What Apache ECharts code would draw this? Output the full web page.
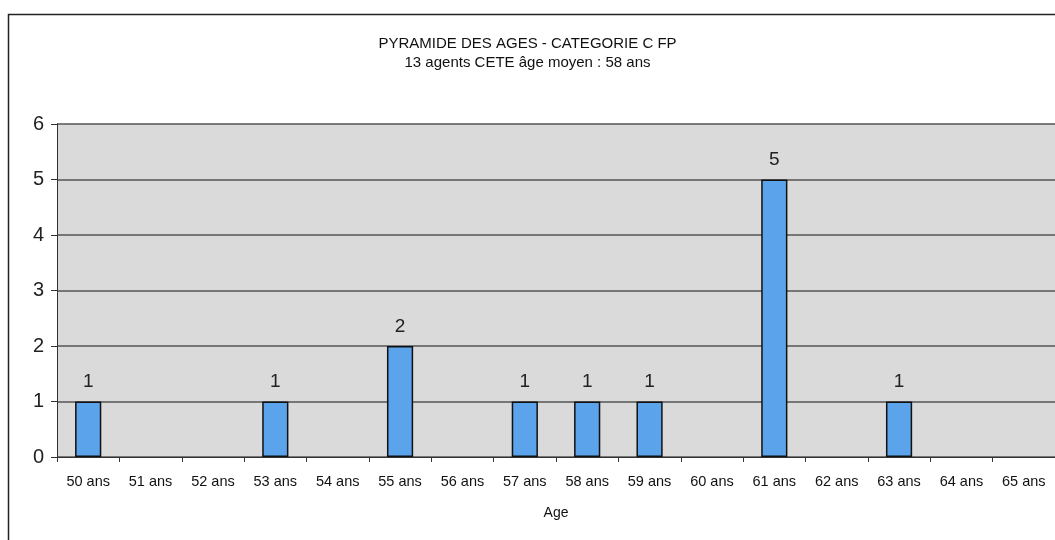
<!DOCTYPE html>
<html>
<head>
<meta charset="utf-8">
<script src="https://cdn.jsdelivr.net/npm/echarts@6/dist/echarts.min.js"></script>
<style>
  html, body { margin: 0; padding: 0; background: #fff; }
  #chart { width: 1055px; height: 540px; }
</style>
</head>
<body>
<div id="chart"></div>
<script>
// age categories and head counts (0 = no agent)
const ages = ['50 ans', '51 ans', '52 ans', '53 ans', '54 ans', '55 ans', '56 ans', '57 ans',
  '58 ans', '59 ans', '60 ans', '61 ans', '62 ans', '63 ans', '64 ans', '65 ans']
const agents = [1, 0, 0, 1, 0, 2, 0, 1, 1, 1, 0, 5, 0, 1, 0, 0]
const titleText = 'PYRAMIDE DES AGES - CATEGORIE C FP'
const subText = '13 agents CETE âge moyen : 58 ans'

const font = '"Liberation Sans", Arial, sans-serif'
const chart = echarts.init(document.getElementById('chart'))

chart.setOption({
  backgroundColor: '#fff',
  animation: false,
  graphic: [{
    type: 'rect',
    shape: { x: 8.5, y: 14.5, width: 1060, height: 540 },
    style: { fill: 'none', stroke: '#222', lineWidth: 1.5 },
    silent: true
  }],
  title: {
    text: titleText,
    subtext: subText,
    left: 'center', top: 31,
    itemGap: 4,
    textStyle: { fontFamily: font, fontSize: 15, fontWeight: 'normal', color: '#111' },
    subtextStyle: { fontFamily: font, fontSize: 15, color: '#111' }
  },
  grid: { left: 57, right: 0, top: 124, bottom: 83, show: true, backgroundColor: '#dadada', borderWidth: 0 },
  xAxis: {
    type: 'category', data: ages,
    name: 'Age', nameLocation: 'middle', nameGap: 49,
    nameTextStyle: { fontFamily: font, fontSize: 14, color: '#111' },
    axisLine: { lineStyle: { color: '#333', width: 1 } },
    axisTick: { show: true, alignWithLabel: false, length: 5, lineStyle: { color: '#333' } },
    axisLabel: { fontFamily: font, fontSize: 14.5, color: '#111', margin: 17, interval: 0 }
  },
  yAxis: {
    type: 'value', min: 0, max: 6, interval: 1,
    axisLine: { show: true, lineStyle: { color: '#333', width: 1 } },
    axisTick: { show: true, length: 6, lineStyle: { color: '#333' } },
    axisLabel: { fontFamily: font, fontSize: 20, color: '#222', margin: 13 },
    splitLine: { lineStyle: { color: '#555', width: 1.5 } }
  },
  series: [{
    type: 'bar',
    // empty ages get no bar at all
    data: agents.map(v => (v > 0 ? v : '-')),
    barWidth: '42%',
    itemStyle: { color: '#5ba3ea', borderColor: '#111', borderWidth: 1.5 },
    label: {
      show: true, position: 'top', distance: 10,
      fontFamily: font, fontSize: 19, color: '#222'
    }
  }]
})
</script>
</body>
</html>
